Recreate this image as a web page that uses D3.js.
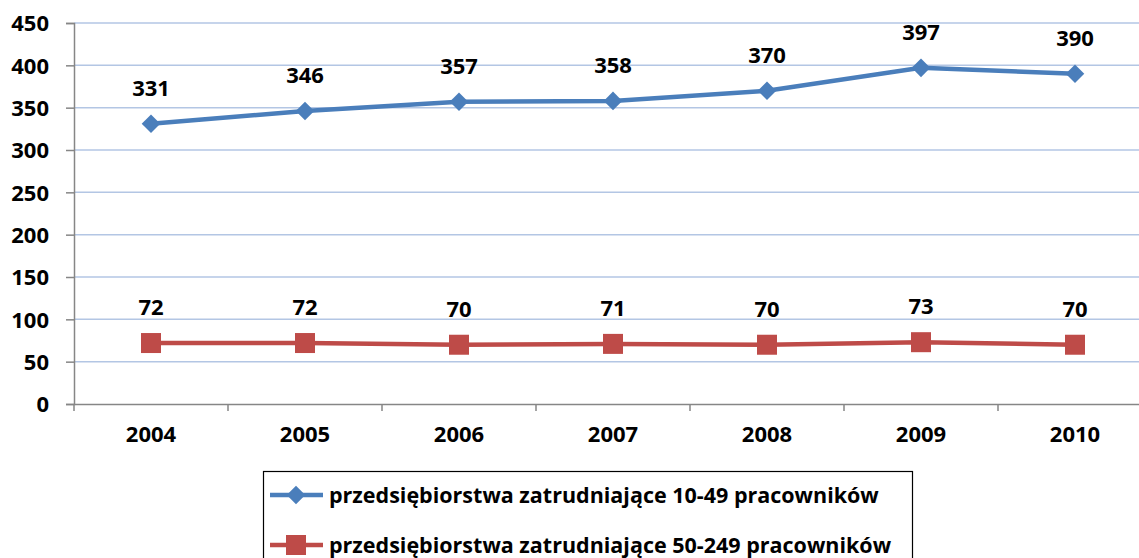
<!DOCTYPE html>
<html>
<head>
<meta charset="utf-8">
<script src="https://cdn.jsdelivr.net/npm/d3@7"></script>
<style>
  body { margin: 0; background: #fff; }
  text { font-family: "Open Sans", "Noto Sans", sans-serif; font-weight: bold; fill: #000; }
</style>
</head>
<body>
<svg id="chart"></svg>
<script>
const years = ["2004", "2005", "2006", "2007", "2008", "2009", "2010"];
const small = [331, 346, 357, 358, 370, 397, 390];
const medium = [72, 72, 70, 71, 70, 73, 70];
const yTicks = [0, 50, 100, 150, 200, 250, 300, 350, 400, 450];
const seriesNames = [
  "przedsiębiorstwa zatrudniające 10-49 pracowników",
  "przedsiębiorstwa zatrudniające 50-249 pracowników"
];

const width = 1139, height = 558;
const svg = d3.select("#chart").attr("width", width).attr("height", height);

const x = d3.scaleBand().domain(years).range([74, 1152]);
const y = d3.scaleLinear().domain([0, 450]).range([404, 23]);

// gridlines
svg.append("g")
  .selectAll("line")
  .data(yTicks.filter(d => d > 0))
  .join("line")
  .attr("x1", 74).attr("x2", width)
  .attr("y1", d => y(d)).attr("y2", d => y(d))
  .attr("stroke", "#b3c6e4").attr("stroke-width", 1.5);

// y axis
const yAxis = svg.append("g").attr("transform", "translate(74,0)")
  .call(d3.axisLeft(y).tickValues(yTicks).tickSize(8).tickPadding(17));
yAxis.select(".domain").attr("stroke", "#868686").attr("stroke-width", 1.5);
yAxis.selectAll(".tick line").attr("stroke", "#868686").attr("stroke-width", 1.5);
yAxis.selectAll("text").style("font-size", "22px").attr("dy", "0.35em");

// x axis
const xAxis = svg.append("g").attr("transform", "translate(0,404)")
  .call(d3.axisBottom(x).tickSize(0).tickPadding(22));
xAxis.select(".domain").attr("stroke", "#868686").attr("stroke-width", 1.5);
xAxis.selectAll("text").style("font-size", "22px");
svg.append("g")
  .selectAll("line")
  .data(years)
  .join("line")
  .attr("x1", d => x(d)).attr("x2", d => x(d))
  .attr("y1", 404).attr("y2", 411)
  .attr("stroke", "#868686").attr("stroke-width", 1.5);

const cx = d => x(d) + x.bandwidth() / 2;
const line = d3.line().x(d => cx(d.year)).y(d => y(d.v));

const s1 = years.map((yr, i) => ({ year: yr, v: small[i] }));
const s2 = years.map((yr, i) => ({ year: yr, v: medium[i] }));

svg.append("path").datum(s1).attr("d", line)
  .attr("fill", "none").attr("stroke", "#4a7ebb").attr("stroke-width", 4.5);
svg.append("path").datum(s2).attr("d", line)
  .attr("fill", "none").attr("stroke", "#be4b48").attr("stroke-width", 4.5);

const diamond = d3.symbol().type(d3.symbolDiamond2).size(220);
svg.append("g").selectAll("path")
  .data(s1).join("path")
  .attr("d", diamond)
  .attr("transform", d => `translate(${cx(d.year)},${y(d.v)})`)
  .attr("fill", "#4a7ebb");

svg.append("g").selectAll("rect")
  .data(s2).join("rect")
  .attr("x", d => cx(d.year) - 10).attr("y", d => y(d.v) - 10)
  .attr("width", 20).attr("height", 20)
  .attr("fill", "#be4b48");

// data labels
svg.append("g").selectAll("text")
  .data(s1.concat(s2)).join("text")
  .attr("x", d => cx(d.year)).attr("y", d => y(d.v) - 28)
  .attr("text-anchor", "middle")
  .style("font-size", "22px")
  .text(d => d.v);

// legend
const legend = svg.append("g");
legend.append("rect")
  .attr("x", 263.5).attr("y", 471.5).attr("width", 649).attr("height", 100)
  .attr("fill", "none").attr("stroke", "#000").attr("stroke-width", 1.2);

const colors = ["#4a7ebb", "#be4b48"];
seriesNames.forEach((name, i) => {
  const ly = 495 + i * 50;
  const g = legend.append("g");
  g.append("line").attr("x1", 270).attr("x2", 323).attr("y1", ly).attr("y2", ly)
    .attr("stroke", colors[i]).attr("stroke-width", 4.5);
  if (i == 0) {
    g.append("path").attr("d", diamond).attr("transform", `translate(296,${ly})`).attr("fill", colors[i]);
  } else {
    g.append("rect").attr("x", 286).attr("y", ly - 10).attr("width", 20).attr("height", 20).attr("fill", colors[i]);
  }
  g.append("text").attr("x", 329).attr("y", ly).attr("dy", "0.35em")
    .style("font-size", "21.5px")
    .text(name);
});
</script>
</body>
</html>
